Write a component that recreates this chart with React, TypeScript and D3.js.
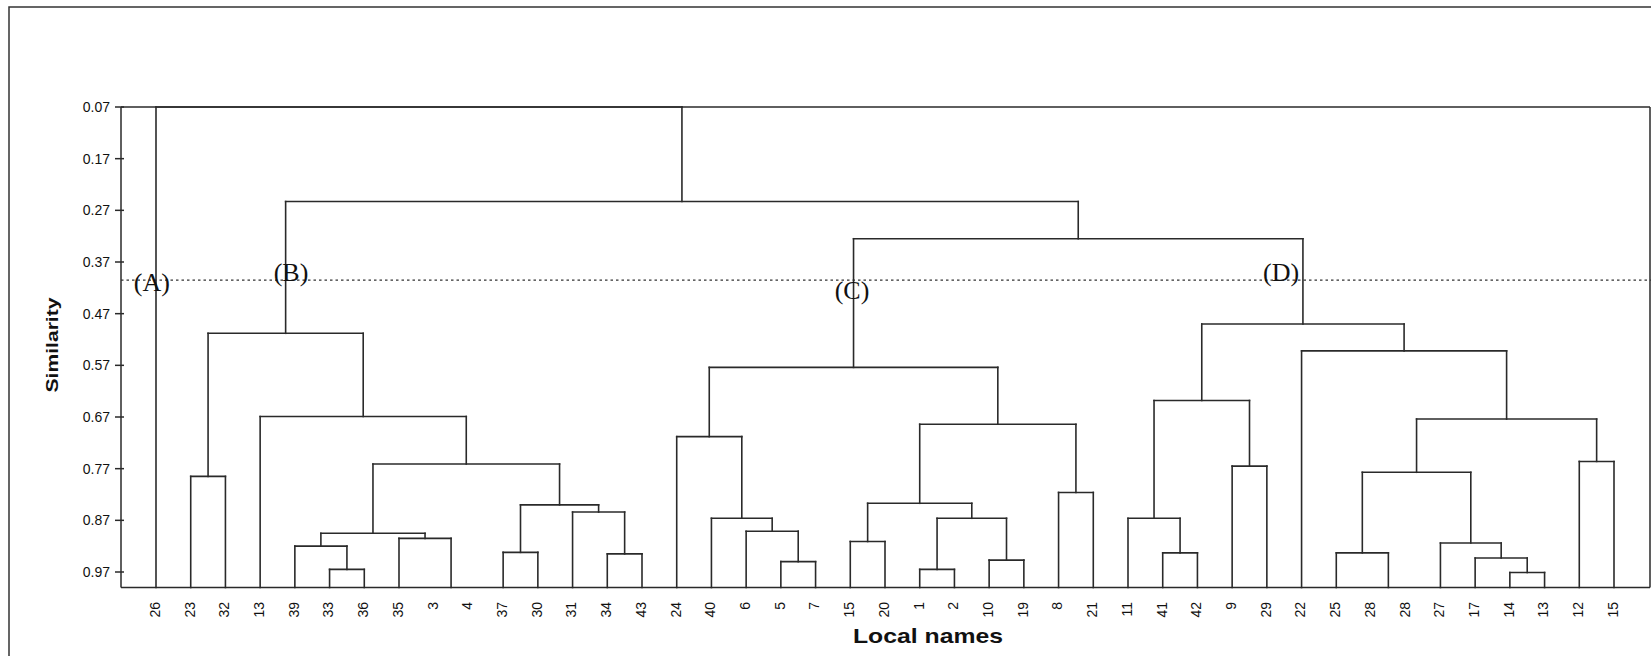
import React from "react";
import * as d3 from "d3";

// Leaf labels in drawing order (as printed under the axis)
const leafLabels = ["26","23","32","13","39","33","36","35","3","4","37","30","31","34","43","24","40","6","5","7","15","20","1","2","10","19","8","21","11","41","42","9","29","22","25","28","28","27","17","14","13","12","15"];

// Y-axis tick values (similarity)
const yTicks = [0.07, 0.17, 0.27, 0.37, 0.47, 0.57, 0.67, 0.77, 0.87, 0.97];

// Merges: [id, left child, right child, similarity]; numbers are leaf slots (label index units)
const merges: [string, string | number, string | number, number][] = [
  ["b1", 1, 2, 0.785],
  ["b2", 5, 6, 0.965],
  ["b3", 4, "b2", 0.920],
  ["b4", 7, 8.5, 0.905],
  ["b5", "b3", "b4", 0.895],
  ["b6", 10, 11, 0.932],
  ["b7", 13, 14, 0.935],
  ["b8", 12, "b7", 0.854],
  ["b9", "b6", "b8", 0.840],
  ["b10", "b5", "b9", 0.761],
  ["b11", 3, "b10", 0.669],
  ["B", "b1", "b11", 0.508],
  ["c1", 18, 19, 0.950],
  ["c2", 17, "c1", 0.891],
  ["c3", 16, "c2", 0.866],
  ["c4", 15, "c3", 0.708],
  ["c5", 20, 21, 0.911],
  ["c6", 22, 23, 0.965],
  ["c7", 24, 25, 0.947],
  ["c8", "c6", "c7", 0.866],
  ["c9", "c5", "c8", 0.837],
  ["c10", 26, 27, 0.816],
  ["c11", "c9", "c10", 0.684],
  ["C", "c4", "c11", 0.574],
  ["d1", 29, 30, 0.933],
  ["d2", 28, "d1", 0.866],
  ["d3", 31, 32, 0.765],
  ["d4", "d2", "d3", 0.638],
  ["d5", 34, 35.5, 0.933],
  ["d6", 39, 40, 0.971],
  ["d7", 38, "d6", 0.943],
  ["d8", 37, "d7", 0.914],
  ["d9", "d5", "d8", 0.777],
  ["d10", 41, 42, 0.756],
  ["d11", "d9", "d10", 0.674],
  ["d12", 33, "d11", 0.542],
  ["D", "d4", "d12", 0.490],
  ["CD", "C", "D", 0.325],
  ["BCD", "B", "CD", 0.253],
  ["root", 0, "BCD", 0.07],
];

// Group cut level and group labels
const cutLevel = 0.405;
const groupNames = ["(A)", "(B)", "(C)", "(D)"];
const groupSlots = [-0.12, 3.89, 20.05, 32.41];
const groupSims = [0.426, 0.407, 0.442, 0.407];

const leafSimilarity = 1.0;

export default function App() {
  const W = 1651, H = 656;
  const x = d3.scaleLinear().domain([0, leafLabels.length - 1]).range([156, 1614]);
  const y = d3.scaleLinear().domain([0.07, 0.97]).range([107, 572]);
  const plotLeft = 121, plotRight = 1650;
  const yTop = y(0.07), yBase = y(leafSimilarity);

  const byId = new Map<string, { l: any; r: any; h: number }>();
  merges.forEach(([id, l, r, h]) => byId.set(id, { l, r, h }));
  const posOf = (n: string | number): number => {
    if (typeof n === "number") return x(n);
    const m = byId.get(n)!;
    return (posOf(m.l) + posOf(m.r)) / 2;
  };
  const hOf = (n: string | number): number => (typeof n === "number" ? leafSimilarity : byId.get(n)!.h);

  const segs: { x1: number; y1: number; x2: number; y2: number }[] = [];
  merges.forEach(([, l, r, h]) => {
    const xl = posOf(l), xr = posOf(r), yh = y(h);
    segs.push({ x1: xl, y1: yh, x2: xr, y2: yh });
    segs.push({ x1: xl, y1: yh, x2: xl, y2: y(hOf(l)) });
    segs.push({ x1: xr, y1: yh, x2: xr, y2: y(hOf(r)) });
  });

  const stroke = "#2a2a2a";
  return (
    <svg width={W} height={H} style={{ position: "absolute", left: 0, top: 0, background: "#fff" }}>
      <rect x={0} y={0} width={W} height={H} fill="#fff" />
      {/* outer frame */}
      <rect x={9} y={7} width={1800} height={800} fill="none" stroke="#333" strokeWidth={1.5} />
      {/* plot box */}
      <line x1={plotLeft} y1={yTop} x2={plotRight} y2={yTop} stroke={stroke} strokeWidth={1.5} />
      <line x1={plotRight} y1={yTop} x2={plotRight} y2={yBase} stroke={stroke} strokeWidth={1.5} />
      <line x1={plotLeft} y1={yBase} x2={plotRight} y2={yBase} stroke={stroke} strokeWidth={1.5} />
      <line x1={plotLeft} y1={yTop} x2={plotLeft} y2={yBase} stroke={stroke} strokeWidth={1.5} />
      {/* y ticks */}
      {yTicks.map((t) => (
        <g key={t}>
          <line x1={plotLeft - 6} x2={plotLeft + 3} y1={y(t)} y2={y(t)} stroke={stroke} strokeWidth={1.5} />
          <text x={110} y={y(t)} dy="0.35em" textAnchor="end" fontFamily="Liberation Sans, Arial, sans-serif" fontSize={14} fill="#111">
            {t.toFixed(2)}
          </text>
        </g>
      ))}
      {/* cut line */}
      <line x1={plotLeft} x2={W} y1={y(cutLevel)} y2={y(cutLevel)} stroke="#333" strokeWidth={1.3} strokeDasharray="2.5,3" />
      {/* dendrogram */}
      {segs.map((s, i) => (
        <line key={i} x1={s.x1} y1={s.y1} x2={s.x2} y2={s.y2} stroke={stroke} strokeWidth={1.6} strokeLinecap="square" />
      ))}
      {/* leaf labels */}
      {leafLabels.map((lab, i) => (
        <text
          key={i}
          transform={`translate(${x(i) - 1},${602}) rotate(-90)`}
          textAnchor="end"
          dy="0.35em"
          fontFamily="Liberation Sans, Arial, sans-serif"
          fontSize={14}
          fill="#111"
        >
          {lab}
        </text>
      ))}
      {/* group labels */}
      {groupNames.map((g, i) => (
        <text key={g} x={x(groupSlots[i])} y={y(groupSims[i])} textAnchor="middle" fontFamily="Liberation Serif, Times New Roman, serif" fontSize={26} fill="#111">
          {g}
        </text>
      ))}
      {/* axis titles */}
      <text transform={`translate(58,345) rotate(-90)`} textAnchor="middle" fontFamily="Liberation Sans, Arial, sans-serif" fontWeight="bold" fontSize={16} fill="#111" textLength={95} lengthAdjust="spacingAndGlyphs">
        Similarity
      </text>
      <text x={928} y={643} textAnchor="middle" fontFamily="Liberation Sans, Arial, sans-serif" fontWeight="bold" fontSize={21} fill="#111" textLength={150} lengthAdjust="spacingAndGlyphs">
        Local names
      </text>
    </svg>
  );
}
